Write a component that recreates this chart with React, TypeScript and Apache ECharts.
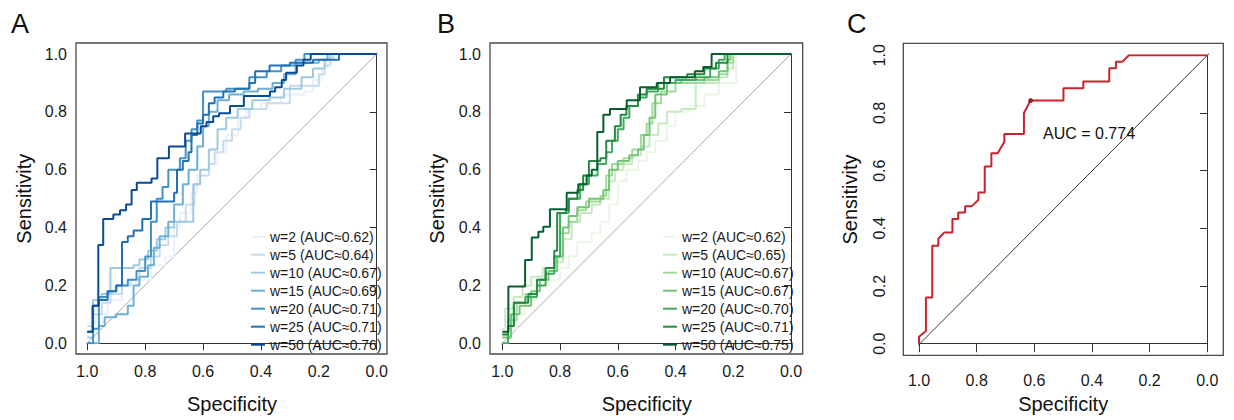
import React, { useEffect, useRef } from "react";
import * as echarts from "echarts";

const FONT = '"Liberation Sans", Arial, Helvetica, sans-serif';

// ---------- Panel A (blue) : [specificity, sensitivity] step tops ----------
const A_NAMES = [
  "w=2 (AUC≈0.62)",
  "w=5 (AUC≈0.64)",
  "w=10 (AUC≈0.67)",
  "w=15 (AUC≈0.69)",
  "w=20 (AUC≈0.71)",
  "w=25 (AUC≈0.71)",
  "w=50 (AUC≈0.76)",
];
const A_COLORS = ["#e9f1fa", "#c6dbef", "#9ecae1", "#6baed6", "#4292c6", "#2171b5", "#0b4a97"];

const A_W2 = [[1, 0.07], [0.97, 0.1], [0.93, 0.15], [0.88, 0.2], [0.83, 0.22], [0.78, 0.27], [0.73, 0.3], [0.7, 0.4], [0.68, 0.45], [0.64, 0.52], [0.62, 0.58], [0.58, 0.62], [0.55, 0.66], [0.52, 0.72], [0.48, 0.78], [0.45, 0.81], [0.4, 0.83], [0.33, 0.86], [0.25, 0.87], [0.22, 0.91], [0.19, 0.95], [0.17, 0.99], [0.15, 1], [0, 1]];
const A_W5 = [[1, 0.06], [0.98, 0.1], [0.95, 0.14], [0.92, 0.17], [0.88, 0.2], [0.85, 0.22], [0.82, 0.26], [0.78, 0.3], [0.75, 0.34], [0.72, 0.37], [0.69, 0.42], [0.66, 0.48], [0.63, 0.55], [0.61, 0.58], [0.58, 0.62], [0.56, 0.66], [0.53, 0.7], [0.5, 0.74], [0.47, 0.78], [0.44, 0.81], [0.38, 0.83], [0.3, 0.89], [0.2, 0.93], [0.18, 0.96], [0.16, 0.98], [0.15, 1], [0, 1]];
const A_W10 = [[1, 0.02], [0.98, 0.15], [0.95, 0.17], [0.92, 0.26], [0.84, 0.27], [0.82, 0.29], [0.79, 0.32], [0.76, 0.36], [0.73, 0.4], [0.7, 0.42], [0.634, 0.55], [0.61, 0.6], [0.58, 0.67], [0.55, 0.74], [0.52, 0.78], [0.48, 0.81], [0.43, 0.84], [0.37, 0.85], [0.32, 0.88], [0.26, 0.92], [0.22, 0.95], [0.18, 0.98], [0.16, 1], [0, 1]];
const A_W15 = [[1, 0.0], [0.96, 0.06], [0.94, 0.09], [0.9, 0.1], [0.86, 0.13], [0.84, 0.2], [0.82, 0.23], [0.79, 0.27], [0.77, 0.33], [0.75, 0.37], [0.72, 0.42], [0.7, 0.48], [0.67, 0.55], [0.65, 0.6], [0.62, 0.68], [0.6, 0.75], [0.58, 0.8], [0.55, 0.84], [0.51, 0.86], [0.46, 0.87], [0.41, 0.88], [0.36, 0.9], [0.32, 0.93], [0.28, 0.97], [0.2, 0.98], [0.17, 1], [0, 1]];
const A_W20 = [[1, 0.0], [0.98, 0.05], [0.96, 0.16], [0.93, 0.18], [0.9, 0.2], [0.86, 0.22], [0.83, 0.25], [0.8, 0.3], [0.78, 0.42], [0.76, 0.5], [0.74, 0.54], [0.72, 0.6], [0.68, 0.64], [0.66, 0.7], [0.64, 0.74], [0.62, 0.77], [0.6, 0.87], [0.55, 0.87], [0.52, 0.88], [0.46, 0.88], [0.44, 0.92], [0.38, 0.94], [0.33, 0.96], [0.28, 0.98], [0.25, 1], [0, 1]];
const A_W25 = [[1, 0.04], [0.98, 0.13], [0.96, 0.15], [0.93, 0.18], [0.9, 0.2], [0.88, 0.35], [0.86, 0.37], [0.84, 0.39], [0.81, 0.43], [0.78, 0.49], [0.7, 0.52], [0.69, 0.6], [0.67, 0.63], [0.65, 0.66], [0.64, 0.72], [0.62, 0.76], [0.6, 0.79], [0.58, 0.83], [0.56, 0.85], [0.53, 0.87], [0.49, 0.88], [0.44, 0.9], [0.42, 0.94], [0.37, 0.96], [0.3, 0.97], [0.22, 0.98], [0.13, 1], [0, 1]];
const A_W50 = [[1, 0.04], [0.982, 0.13], [0.962, 0.34], [0.945, 0.43], [0.91, 0.445], [0.887, 0.46], [0.866, 0.48], [0.847, 0.53], [0.829, 0.555], [0.778, 0.57], [0.758, 0.64], [0.718, 0.68], [0.662, 0.725], [0.608, 0.75], [0.588, 0.765], [0.565, 0.785], [0.545, 0.795], [0.507, 0.82], [0.459, 0.855], [0.369, 0.87], [0.351, 0.885], [0.328, 0.91], [0.313, 0.935], [0.276, 0.96], [0.253, 0.98], [0.228, 1], [0, 1]];
const A_DATA = [A_W2, A_W5, A_W10, A_W15, A_W20, A_W25, A_W50];

// ---------- Panel B (green) ----------
const B_NAMES = [
  "w=2 (AUC≈0.62)",
  "w=5 (AUC≈0.65)",
  "w=10 (AUC≈0.67)",
  "w=15 (AUC≈0.67)",
  "w=20 (AUC≈0.70)",
  "w=25 (AUC≈0.71)",
  "w=50 (AUC≈0.75)",
];
const B_COLORS = ["#eaf6e6", "#c7e9c0", "#a1d99b", "#74c476", "#41ab5d", "#238b45", "#065f2e"];

const B_W2 = [[1, 0.0], [0.98, 0.05], [0.95, 0.1], [0.92, 0.15], [0.88, 0.2], [0.84, 0.22], [0.8, 0.26], [0.77, 0.3], [0.74, 0.35], [0.69, 0.38], [0.66, 0.42], [0.63, 0.48], [0.6, 0.56], [0.57, 0.6], [0.53, 0.63], [0.5, 0.66], [0.47, 0.7], [0.43, 0.75], [0.4, 0.8], [0.35, 0.82], [0.3, 0.86], [0.25, 0.9], [0.19, 1], [0, 1]];
const B_W5 = [[1, 0.05], [0.99, 0.12], [0.96, 0.16], [0.93, 0.2], [0.9, 0.23], [0.86, 0.26], [0.82, 0.28], [0.79, 0.36], [0.76, 0.42], [0.73, 0.45], [0.69, 0.48], [0.66, 0.5], [0.63, 0.56], [0.61, 0.6], [0.58, 0.62], [0.55, 0.65], [0.52, 0.68], [0.49, 0.72], [0.46, 0.76], [0.43, 0.8], [0.38, 0.81], [0.33, 0.9], [0.25, 0.92], [0.22, 0.95], [0.2, 1], [0, 1]];
const B_W10 = [[1, 0.03], [0.98, 0.08], [0.95, 0.14], [0.92, 0.17], [0.88, 0.22], [0.85, 0.26], [0.82, 0.3], [0.8, 0.38], [0.77, 0.42], [0.74, 0.46], [0.71, 0.49], [0.66, 0.51], [0.64, 0.58], [0.62, 0.62], [0.58, 0.64], [0.55, 0.67], [0.52, 0.72], [0.5, 0.76], [0.48, 0.83], [0.45, 0.87], [0.4, 0.9], [0.3, 0.91], [0.25, 0.93], [0.22, 0.97], [0.2, 1], [0, 1]];
const B_W15 = [[1, 0.02], [0.97, 0.1], [0.94, 0.13], [0.9, 0.18], [0.87, 0.22], [0.84, 0.25], [0.81, 0.3], [0.79, 0.4], [0.77, 0.44], [0.74, 0.47], [0.7, 0.5], [0.65, 0.53], [0.63, 0.6], [0.6, 0.63], [0.56, 0.65], [0.53, 0.67], [0.51, 0.72], [0.49, 0.78], [0.47, 0.86], [0.43, 0.9], [0.38, 0.91], [0.3, 0.92], [0.25, 0.94], [0.22, 0.98], [0.21, 1], [0, 1]];
const B_W20 = [[1, 0.0], [0.98, 0.06], [0.96, 0.14], [0.92, 0.16], [0.88, 0.2], [0.85, 0.24], [0.82, 0.3], [0.8, 0.45], [0.77, 0.5], [0.73, 0.55], [0.7, 0.58], [0.67, 0.62], [0.64, 0.66], [0.62, 0.7], [0.6, 0.74], [0.58, 0.78], [0.56, 0.82], [0.53, 0.85], [0.5, 0.87], [0.46, 0.9], [0.4, 0.91], [0.33, 0.92], [0.28, 0.95], [0.25, 0.98], [0.23, 1], [0, 1]];
const B_W25 = [[1, 0.03], [0.98, 0.06], [0.96, 0.14], [0.91, 0.17], [0.88, 0.22], [0.85, 0.26], [0.82, 0.32], [0.81, 0.45], [0.78, 0.46], [0.77, 0.5], [0.74, 0.53], [0.72, 0.58], [0.7, 0.63], [0.66, 0.64], [0.64, 0.7], [0.61, 0.75], [0.59, 0.79], [0.57, 0.82], [0.53, 0.86], [0.5, 0.88], [0.44, 0.92], [0.36, 0.93], [0.3, 0.95], [0.26, 0.97], [0.22, 1], [0, 1]];
const B_W50 = [[1, 0.04], [0.979, 0.196], [0.921, 0.288], [0.898, 0.366], [0.875, 0.386], [0.858, 0.403], [0.835, 0.463], [0.777, 0.52], [0.737, 0.55], [0.708, 0.58], [0.69, 0.6], [0.671, 0.73], [0.65, 0.79], [0.627, 0.81], [0.569, 0.84], [0.523, 0.885], [0.465, 0.9], [0.419, 0.92], [0.333, 0.94], [0.304, 0.955], [0.275, 1], [0, 1]];
const B_DATA = [B_W2, B_W5, B_W10, B_W15, B_W20, B_W25, B_W50];

// ---------- Panel C (single ROC, vertices) ----------
const C_ROC = [[1, 0], [1, 0.024], [0.976, 0.044], [0.976, 0.16], [0.954, 0.16], [0.954, 0.34], [0.933, 0.34], [0.933, 0.364], [0.912, 0.386], [0.884, 0.386], [0.884, 0.432], [0.864, 0.432], [0.864, 0.455], [0.84, 0.455], [0.84, 0.477], [0.817, 0.477], [0.794, 0.498], [0.794, 0.524], [0.772, 0.524], [0.772, 0.614], [0.749, 0.614], [0.749, 0.66], [0.727, 0.66], [0.704, 0.7], [0.704, 0.727], [0.636, 0.727], [0.636, 0.8], [0.613, 0.843], [0.499, 0.843], [0.499, 0.886], [0.43, 0.886], [0.43, 0.909], [0.34, 0.909], [0.34, 0.955], [0.317, 0.955], [0.317, 0.978], [0.294, 0.978], [0.272, 1], [0, 1]];
const C_BEST = [[0.613, 0.843]];
const C_AUC_TEXT = "AUC = 0.774";

const PANEL_LETTERS = ["A", "B", "C"];

function makeAxes(i: number, xOff: number, yOff: number, cfg: any) {
  const lbl = { fontSize: 16, color: "#1a1a1a", fontFamily: FONT, formatter: (v: number) => v.toFixed(1) };
  const nameStyle = { fontSize: 20, color: "#111", fontFamily: FONT };
  const line = { show: true, lineStyle: { color: "#333", width: 1 } };
  const x = {
    gridIndex: i, type: "value", min: 0, max: 1, interval: 0.2, inverse: true, offset: xOff,
    name: "Specificity", nameLocation: "middle", nameGap: cfg.xNameGap, nameTextStyle: nameStyle,
    axisLine: line, axisTick: { show: true, length: cfg.xTick, lineStyle: { color: "#333" } },
    axisLabel: { ...lbl, margin: cfg.xMargin }, splitLine: { show: false },
  };
  const y = {
    gridIndex: i, type: "value", min: 0, max: 1, interval: 0.2, offset: yOff,
    name: "Sensitivity", nameLocation: "middle", nameGap: cfg.yNameGap, nameTextStyle: nameStyle,
    axisLine: line, axisTick: { show: true, length: cfg.yTick, lineStyle: { color: "#333" } },
    axisLabel: { ...lbl, margin: cfg.yMargin, rotate: cfg.yRotate || 0 }, splitLine: { show: false },
  };
  return { x, y };
}

export default function App() {
  const ref = useRef<HTMLDivElement>(null);
  useEffect(() => {
    document.body.style.margin = "0";
    const chart = echarts.init(ref.current!, null, { renderer: "svg" });

    const ax = [
      makeAxes(0, 10.7, 11.3, { xNameGap: 40, yNameGap: 42, xTick: 7, yTick: 7, xMargin: 9, yMargin: 9 }),
      makeAxes(1, 10.7, 12.3, { xNameGap: 40, yNameGap: 43, xTick: 7, yTick: 7, xMargin: 9, yMargin: 9 }),
      makeAxes(2, 11.6, 15.7, { xNameGap: 39, yNameGap: 43, xTick: 8.5, yTick: 7.3, xMargin: 17, yMargin: 16, yRotate: 90 }),
    ];

    const series: any[] = [];
    const diag = (i: number, d: number[][], color: string, w: number) => ({
      type: "line", xAxisIndex: i, yAxisIndex: i, data: d, symbol: "none", clip: false, silent: true,
      lineStyle: { color, width: w }, z: 1,
    });
    series.push(diag(0, [[1.039, -0.038], [-0.036, 1.036]], "#a8a8a8", 1));
    series.push(diag(1, [[1.04, -0.04], [-0.04, 1.04]], "#a8a8a8", 1));
    series.push(diag(2, [[1.037, -0.04], [-0.042, 1.042]], "#3a3a3a", 1));

    A_DATA.forEach((d, k) => {
      series.push({
        name: "A|" + A_NAMES[k], type: "line", xAxisIndex: 0, yAxisIndex: 0, data: d, step: "end",
        symbol: "none", color: A_COLORS[k], lineStyle: { color: A_COLORS[k], width: 2 }, z: 2 + k,
      });
    });
    B_DATA.forEach((d, k) => {
      series.push({
        name: "B|" + B_NAMES[k], type: "line", xAxisIndex: 1, yAxisIndex: 1, data: d, step: "end",
        symbol: "none", color: B_COLORS[k], lineStyle: { color: B_COLORS[k], width: 2 }, z: 2 + k,
      });
    });
    series.push({
      name: "C", type: "line", xAxisIndex: 2, yAxisIndex: 2, data: C_ROC, symbol: "none",
      lineStyle: { color: "#c8232c", width: 2 }, z: 3,
    });
    series.push({
      name: "C best", type: "scatter", xAxisIndex: 2, yAxisIndex: 2, data: C_BEST, symbolSize: 5,
      itemStyle: { color: "#7a1010" }, z: 4,
    });

    const legendBase = {
      orient: "vertical", icon: "rect", itemWidth: 14, itemHeight: 2, itemGap: 0, selectedMode: false,
      formatter: (n: string) => n.split("|")[1],
      textStyle: { fontSize: 14, lineHeight: 18, color: "#1a1a1a", fontFamily: FONT },
    };

    const box = (x: number, y: number, w: number, h: number) => ({
      type: "rect", shape: { x, y, width: w, height: h }, silent: true,
      style: { fill: "none", stroke: "#4a4a4a", lineWidth: 1.3 }, z: 0,
    });
    const letter = (t: string, x: number) => ({
      type: "text", x, y: 24, style: { text: t, fontSize: 27, fontFamily: FONT, fill: "#111", verticalAlign: "middle" },
    });

    chart.setOption({
      animation: false,
      backgroundColor: "#ffffff",
      grid: [
        { left: 87.3, top: 54, width: 289.4, height: 289.3 },
        { left: 502.3, top: 54, width: 288.7, height: 289.3 },
        { left: 919, top: 55.3, width: 288.3, height: 288.4 },
      ],
      xAxis: ax.map((a) => a.x),
      yAxis: ax.map((a) => a.y),
      legend: [
        { ...legendBase, left: 246, top: 222.7, data: A_NAMES.map((n) => "A|" + n) },
        { ...legendBase, left: 658, top: 222.7, data: B_NAMES.map((n) => "B|" + n) },
      ],
      graphic: [
        box(76, 43, 311, 311),
        box(490, 43, 312.7, 311),
        box(903.3, 43.3, 320, 312),
        letter(PANEL_LETTERS[0], 11),
        letter(PANEL_LETTERS[1], 437),
        letter(PANEL_LETTERS[2], 847),
        {
          type: "text", x: 1043, y: 133,
          style: { text: C_AUC_TEXT, fontSize: 16, fontFamily: FONT, fill: "#111", verticalAlign: "middle" },
        },
      ],
      series,
    });
    return () => chart.dispose();
  }, []);
  return <div ref={ref} style={{ width: 1234, height: 420 }} />;
}
